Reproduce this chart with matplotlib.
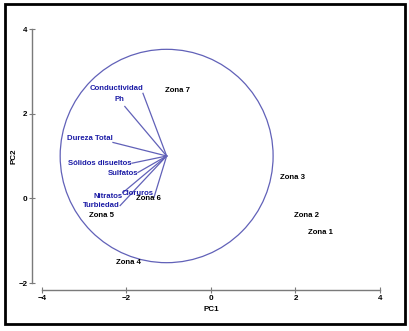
import numpy as np
import matplotlib.pyplot as plt
from matplotlib.patches import Circle, Rectangle

plt.rcParams['font.family'] = ['Liberation Sans', 'DejaVu Sans']

# Variable loadings (end points of the vectors)
variables = ['Conductividad', 'Ph', 'Dureza Total', 'Sólidos disueltos',
             'Sulfatos', 'Nitratos', 'Turbiedad', 'Cloruros']
var_pc1 = [-1.61, -2.04, -2.32, -1.87, -1.73, -2.08, -2.15, -1.35]
var_pc2 = [2.48, 2.17, 1.32, 0.83, 0.61, 0.14, -0.17, 0.02]

# Vector origin and circle radius
origin = (-1.05, 1.0)
radius = 2.52

# Scores of each zone
zones = ['Zona 1', 'Zona 2', 'Zona 3', 'Zona 4', 'Zona 5', 'Zona 6', 'Zona 7']
zone_pc1 = [2.58, 2.27, 1.94, -1.96, -2.60, -1.49, -0.80]
zone_pc2 = [-0.80, -0.40, 0.50, -1.51, -0.40, 0.0, 2.55]

# vertical nudge of each variable label, in points
label_dy = [3.6, 5.0, 3.0, 0, -0.7, -2.9, 0, 2.9]

line_col = '#6161b8'
text_col = '#1c1ca6'

fig = plt.figure(figsize=(4.10, 3.31), dpi=100)
ax = fig.add_axes([42 / 410, 48 / 331, 338 / 410, 254 / 331])

ax.add_patch(Circle(origin, radius, fill=False, edgecolor=line_col, lw=0.9))

for name, x, y, dy in zip(variables, var_pc1, var_pc2, label_dy):
    ax.plot([origin[0], x], [origin[1], y], color=line_col, lw=0.9)
    ax.annotate(name, (x, y), xytext=(0, dy), textcoords='offset points',
                ha='right', va='center', color=text_col,
                fontsize=5.6, fontweight='bold')

for name, x, y in zip(zones, zone_pc1, zone_pc2):
    ax.text(x, y, name, ha='center', va='center', color='black',
            fontsize=5.6, fontweight='bold')

ax.set_xlim(-4, 4)
ax.set_ylim(-2, 4)
ax.set_xticks([-4, -2, 0, 2, 4])
ax.set_yticks([-2, 0, 2, 4])

for side in ['top', 'right']:
    ax.spines[side].set_visible(False)
ax.spines['left'].set_position(('outward', 7))
ax.spines['bottom'].set_position(('outward', 5))
for side in ['left', 'bottom']:
    ax.spines[side].set_color('#7a7a7a')
    ax.spines[side].set_linewidth(1.0)
ax.tick_params(direction='inout', length=5, width=0.8, color='#7a7a7a',
               labelsize=5.8, pad=1)
for lbl in ax.get_xticklabels() + ax.get_yticklabels():
    lbl.set_fontweight('bold')

ax.set_xlabel('PC1', fontsize=5.8, fontweight='bold', labelpad=3)
ax.set_ylabel('PC2', fontsize=5.8, fontweight='bold', labelpad=0.5)

# Black frame around the figure
fig.patches.append(Rectangle((5 / 410, 7 / 331), 400 / 410, 320 / 331,
                             transform=fig.transFigure, fill=False,
                             edgecolor='black', lw=2))

fig.savefig('out.png', dpi=100)
